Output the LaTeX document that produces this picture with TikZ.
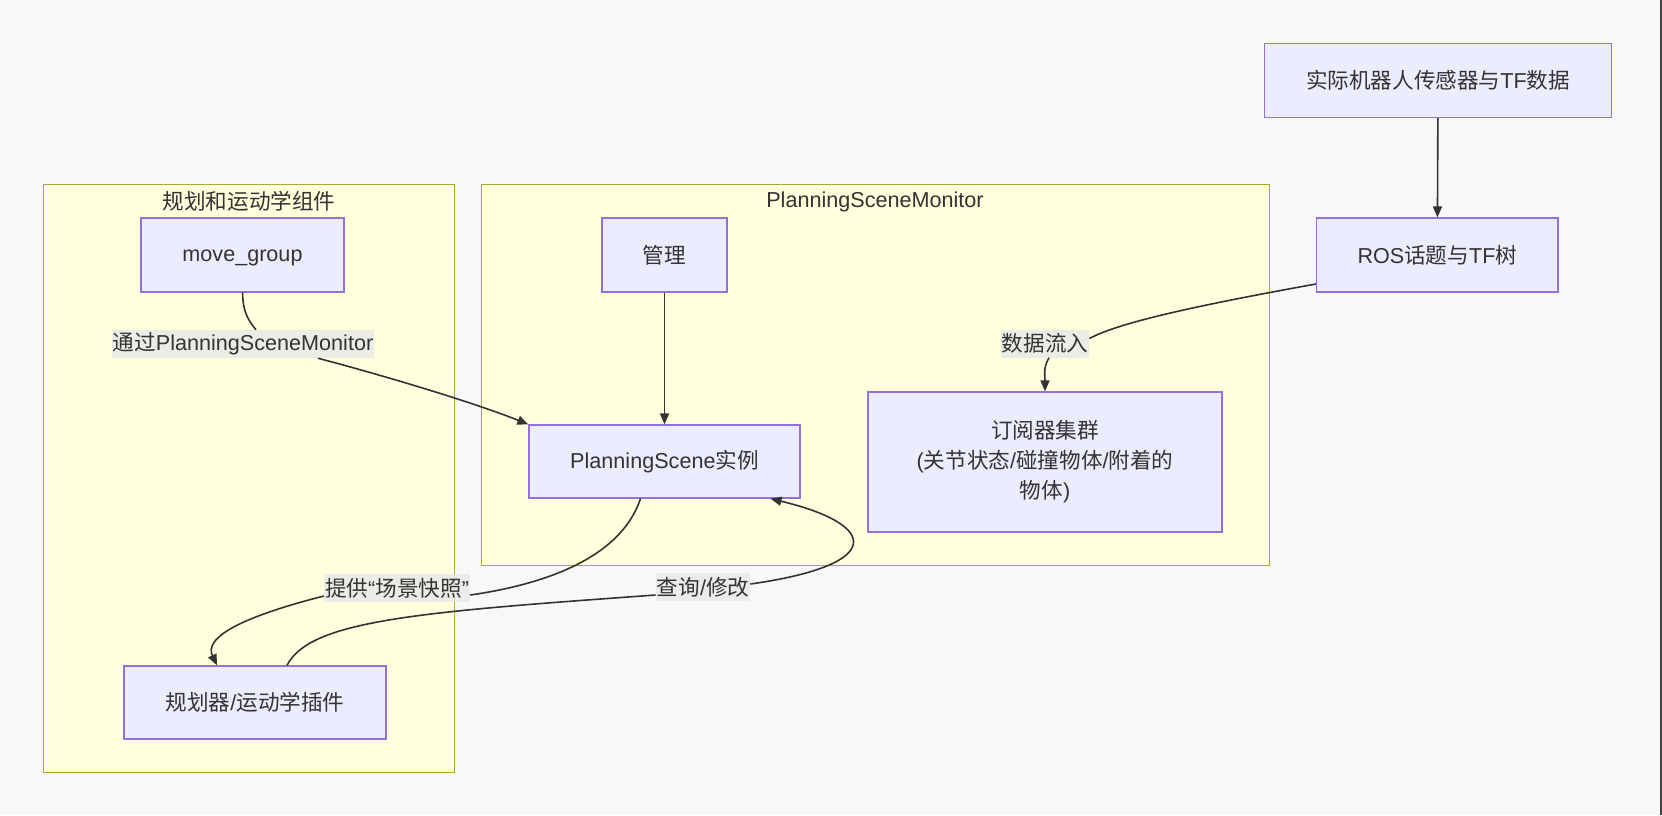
\documentclass[tikz,border=0pt]{standalone}
\usepackage{fontspec}
\setmainfont{Liberation Sans}
\newfontfamily\cjk{Noto Sans CJK SC}
\usepackage{tikz}
\usetikzlibrary{arrows.meta}
\definecolor{nodefill}{HTML}{ECECFF}
\definecolor{nodeline}{HTML}{9370DB}
\definecolor{clusterfill}{HTML}{FFFFDE}
\definecolor{clusterline}{HTML}{AAAA33}
\definecolor{edgeline}{HTML}{333333}
\definecolor{labelfill}{HTML}{E8E8E8}
\definecolor{pagebg}{HTML}{F7F8F7}
\newcommand{\zh}[1]{{\cjk #1}} % chinese part of a label
\newcommand{\zhstrut}{{\cjk\vphantom{管}}} % same line height for every label
\tikzset{
	box/.style={draw=nodeline, fill=nodefill, line width=1.3pt, text=edgeline, inner sep=0pt, align=center, font=\fontsize{21.6}{30}\selectfont, execute at begin node=\zhstrut},
	cluster/.style={draw=clusterline, fill=clusterfill, line width=1pt, inner sep=0pt},
	clustertitle/.style={text=edgeline, inner sep=0pt, font=\fontsize{21.6}{26}\selectfont, execute at begin node=\zhstrut},
	edgelabel/.style={fill=labelfill, fill opacity=0.8, text opacity=1, text=edgeline, inner xsep=1pt, inner ysep=0pt, minimum height=28pt, font=\fontsize{21.6}{26}\selectfont, execute at begin node=\zhstrut},
	edge/.style={draw=edgeline, line width=1.6pt},
	arr/.style={edge, -{Triangle[length=11pt,width=9pt]}},
}

\begin{document}
\begin{tikzpicture}[x=1pt, y=-1pt]

	\useasboundingbox (0,0) rectangle (1662,815);
	\fill[pagebg] (0,0) rectangle (1662,815);
	\fill[black!75] (1659.5,0) rectangle (1662,815);

	% subgraphs
	\node[cluster, minimum width=411pt, minimum height=588pt] (planclust) at (249.1,478.5) {};
	\node[clustertitle] (plantitle) at ([yshift=-17pt]planclust.north) {\zh{规划和运动学组件}};
	\node[cluster, minimum width=788pt, minimum height=381pt] (psmclust) at (875,374.7) {};
	\node[clustertitle] (psmtitle) at ([yshift=-17pt]psmclust.north) {PlanningSceneMonitor};

	\node[box, minimum width=203pt, minimum height=74pt] (movegroup) at (242.5,255) {move\_group};
	\node[box, minimum width=262pt, minimum height=73pt] (planner) at (255,702.5) {\zh{规划器}/\zh{运动学插件}};
	\node[box, minimum width=125pt, minimum height=74pt] (manage) at (664.5,255) {\zh{管理}};
	\node[box, minimum width=271pt, minimum height=73pt] (psinst) at (664.5,461.5) {PlanningScene\zh{实例}};
	\node[box, minimum width=354pt, minimum height=140pt] (subs) at (1045,462) {\zh{订阅器集群}\\(\zh{关节状态}/\zh{碰撞物体}/\zh{附着的}\\\zh{物体})};
	\node[box, minimum width=347pt, minimum height=74pt] (sensor) at (1438,80.3) {\zh{实际机器人传感器与}TF\zh{数据}};
	\node[box, minimum width=241.5pt, minimum height=74pt] (ros) at (1437.3,255) {ROS\zh{话题与}TF\zh{树}};

	\node[edgelabel] (lblvia) at (243,344) {\zh{通过}PlanningSceneMonitor};
	\node[edgelabel] (lbldata) at (1045,343.5) {\zh{数据流入}};
	\node[edgelabel] (lblsnap) at (397,588) {\zh{提供}“\zh{场景快照}”};
	\node[edgelabel] (lblquery) at (703,587) {\zh{查询}/\zh{修改}};

	\draw[edge] (movegroup.south) .. controls (243,312) and (248,320) .. ([xshift=13pt]lblvia.north);
	\draw[arr] ([xshift=75pt]lblvia.south) .. controls (400,380) and (480,405) .. (psinst.north west);

	\draw[arr] (manage) -- (psinst);
	\draw[arr] (sensor) -- (ros);

	\draw[edge] ([yshift=-29pt]ros.west) .. controls (1200,305) and (1120,322) .. ([yshift=5pt]lbldata.east);
	\draw[arr] ([xshift=4pt]lbldata.south) .. controls (1043,368) and (1045,375) .. (subs.north);

	\draw[edge] ([xshift=-24pt]psinst.south) .. controls (620,560) and (540,585) .. ([yshift=-7pt]lblsnap.east);
	\draw[arr] ([yshift=-8pt]lblsnap.west) .. controls (230,620) and (205,640) .. ([xshift=-38pt]planner.north);

	\draw[edge] ([xshift=32pt]planner.north) .. controls (310,620) and (420,612) .. ([yshift=-8pt]lblquery.west);
	\draw[arr] ([yshift=3pt]lblquery.east) .. controls (885,565) and (880,525) .. ([xshift=106pt]psinst.south);

\end{tikzpicture}
\end{document}
